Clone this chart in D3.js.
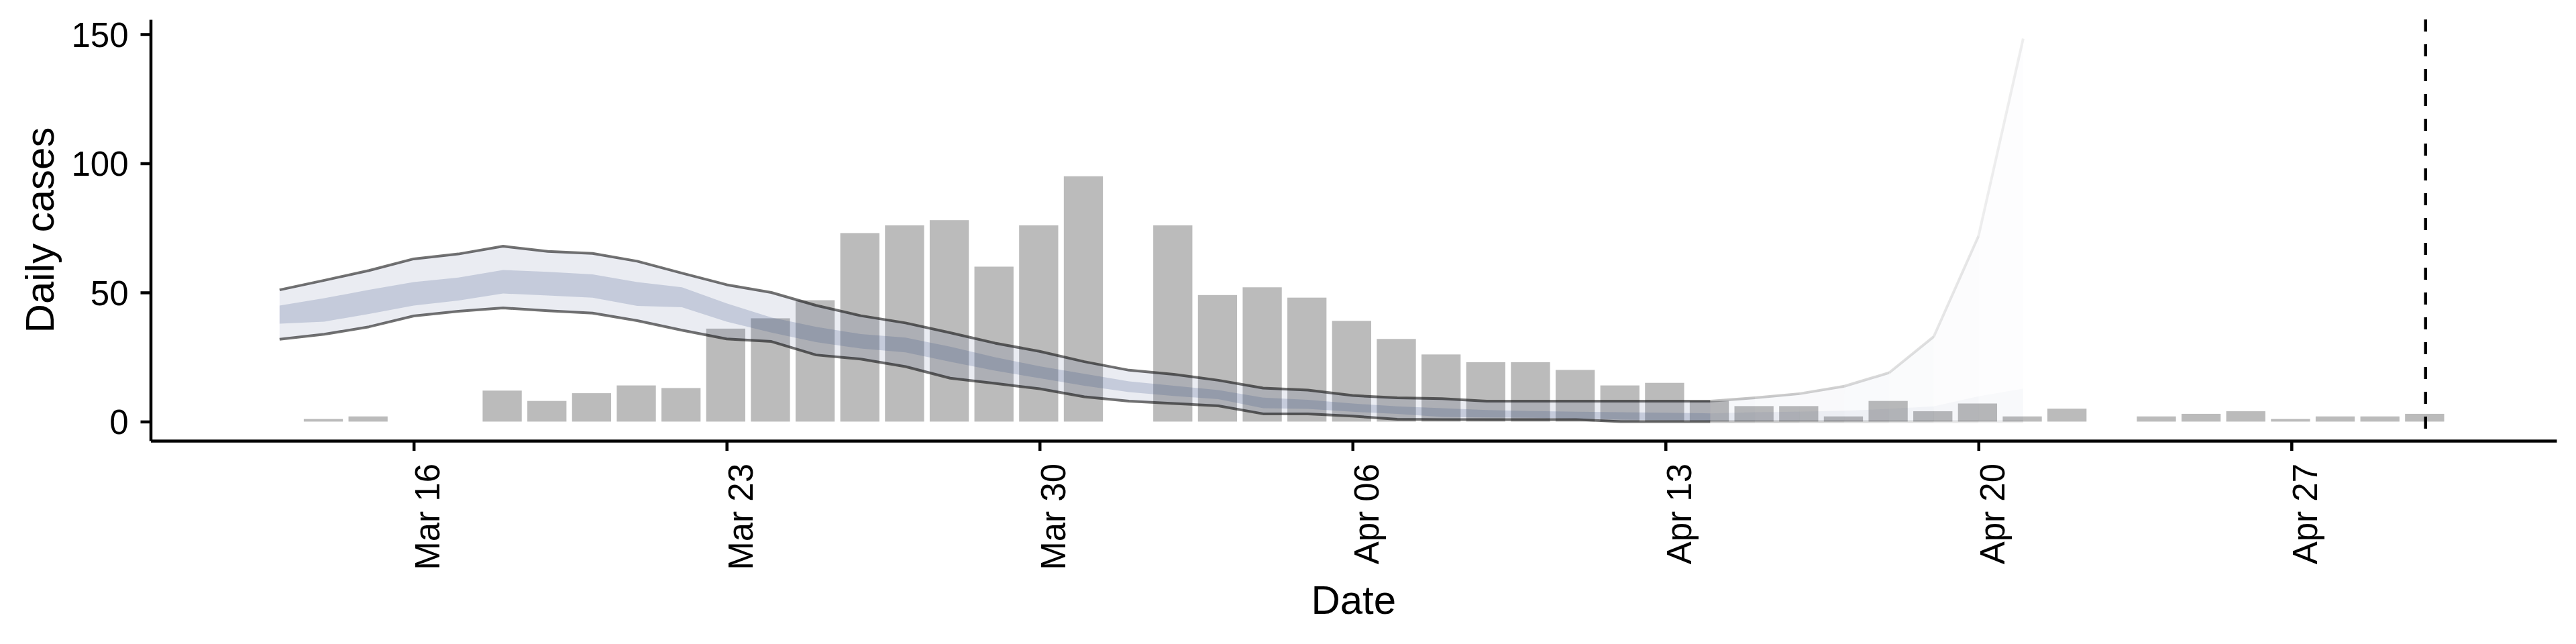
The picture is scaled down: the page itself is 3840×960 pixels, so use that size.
<!DOCTYPE html>
<html>
<head>
<meta charset="utf-8">
<script src="https://cdn.jsdelivr.net/npm/d3@7"></script>
<style>
  body { margin: 0; background: #fff; }
  text { font-family: "Liberation Sans", Arial, sans-serif; fill: #000; }
</style>
</head>
<body>
<svg id="chart" width="3840" height="960"></svg>
<script>
// reported daily cases
const caseDates = ["2020-03-14","2020-03-15","2020-03-18","2020-03-19","2020-03-20","2020-03-21","2020-03-22",
  "2020-03-23","2020-03-24","2020-03-25","2020-03-26","2020-03-27","2020-03-28","2020-03-29","2020-03-30",
  "2020-03-31","2020-04-02","2020-04-03","2020-04-04","2020-04-05","2020-04-06","2020-04-07","2020-04-08",
  "2020-04-09","2020-04-10","2020-04-11","2020-04-12","2020-04-13","2020-04-14","2020-04-15","2020-04-16",
  "2020-04-17","2020-04-18","2020-04-19","2020-04-20","2020-04-21","2020-04-22","2020-04-24","2020-04-25",
  "2020-04-26","2020-04-27","2020-04-28","2020-04-29","2020-04-30"];
const caseCounts = [1, 2, 12, 8, 11, 14, 13,
  36, 40, 47, 73, 76, 78, 60, 76,
  95, 76, 49, 52, 48, 39, 32, 26,
  23, 23, 20, 14, 15, 8, 6, 6,
  2, 8, 4, 7, 2, 5, 2, 3,
  4, 1, 2, 2, 3];

// estimate (Mar 13 - Apr 14)
const estDates = ["2020-03-13","2020-03-14","2020-03-15","2020-03-16","2020-03-17","2020-03-18","2020-03-19",
  "2020-03-20","2020-03-21","2020-03-22","2020-03-23","2020-03-24","2020-03-25","2020-03-26","2020-03-27",
  "2020-03-28","2020-03-29","2020-03-30","2020-03-31","2020-04-01","2020-04-02","2020-04-03","2020-04-04",
  "2020-04-05","2020-04-06","2020-04-07","2020-04-08","2020-04-09","2020-04-10","2020-04-11","2020-04-12",
  "2020-04-13","2020-04-14"];
const estUpper90 = [51.0, 54.7, 58.5, 63.0, 64.9, 67.9, 65.9, 65.1, 62.1, 57.5, 53.0, 50.0, 45.0, 41.0, 38.2,
  34.4, 30.4, 27.2, 23.2, 19.9, 18.3, 16.0, 13.0, 12.2, 10.1, 9.2, 8.9, 7.9, 7.9, 7.9, 7.9, 7.9, 7.9];
const estLower90 = [31.9, 33.8, 36.7, 40.9, 42.7, 44.0, 42.9, 42.0, 39.1, 35.4, 32.0, 31.0, 25.8, 24.2, 21.3,
  16.8, 14.8, 12.7, 9.6, 7.9, 7.0, 6.1, 3.0, 3.0, 2.1, 0.9, 0.8, 0.8, 0.8, 0.8, 0, 0, 0];
const estUpper50 = [44.9, 47.8, 51.0, 54.0, 55.8, 58.7, 58.0, 57.0, 54.0, 52.0, 45.8, 40.3, 36.7, 33.9, 32.5,
  29.0, 24.9, 21.4, 18.5, 15.6, 13.9, 12.2, 9.3, 8.4, 7.0, 5.9, 5.2, 4.5, 4.1, 3.8, 3.6, 3.4, 3.2];
const estLower50 = [37.9, 38.7, 41.7, 44.9, 46.9, 49.6, 48.8, 48.0, 44.8, 44.3, 38.7, 34.5, 30.8, 28.3, 26.8,
  23.2, 19.7, 16.8, 13.9, 11.4, 9.9, 8.7, 5.2, 4.9, 3.8, 3.0, 1.8, 1.6, 1.5, 1.2, 0.8, 0.6, 0.4];

// forecast (Apr 14 - Apr 21)
const fcDates = ["2020-04-14","2020-04-15","2020-04-16","2020-04-17","2020-04-18","2020-04-19","2020-04-20","2020-04-21"];
const fcUpper90 = [7.9, 9.2, 10.8, 13.7, 18.9, 32.9, 71.8, 148.3];
const fcLower90 = [0, 0, 0, 0, 0, 0, 0, 0];
const fcUpper50 = [3.2, 3.6, 3.8, 4.2, 4.9, 5.9, 9.8, 12.8];
const fcLower50 = [0.4, 0.3, 0.3, 0.2, 0.2, 0.2, 0.2, 0.2];

const yTicks = [0, 50, 100, 150];
const xTickDates = ["2020-03-16","2020-03-23","2020-03-30","2020-04-06","2020-04-13","2020-04-20","2020-04-27"];
const cutoffDate = "2020-04-30";

const parse = d3.utcParse("%Y-%m-%d");
const svg = d3.select("#chart");

const plotLeft = 224.5, plotRight = 3811, plotTop = 29, plotBottom = 657;

const x = d3.scaleUtc()
  .domain([new Date(Date.UTC(2020, 2, 10, 2, 46)), new Date(Date.UTC(2020, 4, 2, 22, 19))])
  .range([plotLeft, plotRight]);

const yMax = d3.max(fcUpper90);
const y = d3.scaleLinear()
  .domain([-0.05 * yMax, yMax * 1.05])
  .range([plotBottom, plotTop]);

const ribbonCol = "#304982";

// bars
const cases = caseDates.map((d, i) => ({date: parse(d), n: caseCounts[i]}));
svg.append("g").selectAll("rect")
  .data(cases)
  .join("rect")
  .attr("x", d => x(d3.utcHour.offset(d.date, -10.8)))
  .attr("width", d => x(d3.utcHour.offset(d.date, 10.8)) - x(d3.utcHour.offset(d.date, -10.8)))
  .attr("y", d => y(d.n))
  .attr("height", d => y(0) - y(d.n))
  .attr("fill", "#bbbbbb");

// estimate ribbons
const est = estDates.map((d, i) => ({date: parse(d), lo90: estLower90[i], hi90: estUpper90[i], lo50: estLower50[i], hi50: estUpper50[i]}));

const area90 = d3.area().x(d => x(d.date)).y0(d => y(d.lo90)).y1(d => y(d.hi90));
const area50 = d3.area().x(d => x(d.date)).y0(d => y(d.lo50)).y1(d => y(d.hi50));
const lineHi = d3.line().x(d => x(d.date)).y(d => y(d.hi90));
const lineLo = d3.line().x(d => x(d.date)).y(d => y(d.lo90));

const gEst = svg.append("g");
gEst.append("path").attr("d", area90(est)).attr("fill", ribbonCol).attr("fill-opacity", 0.1);
gEst.append("path").attr("d", area50(est)).attr("fill", ribbonCol).attr("fill-opacity", 0.2);
[lineHi, lineLo].forEach(l => {
  gEst.append("path").attr("d", l(est)).attr("fill", "none")
    .attr("stroke", "#000").attr("stroke-opacity", 0.55).attr("stroke-width", 4)
    .attr("stroke-linejoin", "round");
});

// forecast, fading day by day
const fc = fcDates.map((d, i) => ({date: parse(d), lo90: fcLower90[i], hi90: fcUpper90[i], lo50: fcLower50[i], hi50: fcUpper50[i]}));
const gFc = svg.append("g");
for (let i = 0; i < fc.length - 1; i++) {
  const seg = fc.slice(i, i + 2);
  const f = 0.42 - 0.05 * i;
  gFc.append("path").attr("d", area90(seg)).attr("fill", ribbonCol).attr("fill-opacity", 0.1 * f);
  gFc.append("path").attr("d", area50(seg)).attr("fill", ribbonCol).attr("fill-opacity", 0.2 * f);
  [lineHi, lineLo].forEach(l => {
    gFc.append("path").attr("d", l(seg)).attr("fill", "none")
      .attr("stroke", "#000").attr("stroke-opacity", 0.55 * f).attr("stroke-width", 4);
  });
}

// report date marker
svg.append("line")
  .attr("x1", x(parse(cutoffDate))).attr("x2", x(parse(cutoffDate)))
  .attr("y1", plotTop).attr("y2", plotBottom)
  .attr("stroke", "#000").attr("stroke-width", 4.5)
  .attr("stroke-dasharray", "18,19");

// axes
const yAxis = svg.append("g")
  .attr("transform", `translate(${plotLeft},0)`)
  .call(d3.axisLeft(y).tickValues(yTicks).tickSize(15).tickSizeOuter(0).tickPadding(18));
const xAxis = svg.append("g")
  .attr("transform", `translate(0,${plotBottom})`)
  .call(d3.axisBottom(x).tickValues(xTickDates.map(parse)).tickFormat(d3.utcFormat("%b %d"))
    .tickSize(15).tickSizeOuter(0));

[yAxis, xAxis].forEach(a => {
  a.attr("font-family", null).attr("font-size", null);
  a.select(".domain").attr("stroke", "#000").attr("stroke-width", 4.5);
  a.selectAll(".tick line").attr("stroke", "#000").attr("stroke-width", 4.5);
  a.selectAll("text").attr("font-size", 51);
});
yAxis.selectAll(".tick text").attr("dy", "0.36em");
xAxis.selectAll(".tick text")
  .attr("transform", "rotate(-90)")
  .attr("text-anchor", "end")
  .attr("x", -34)
  .attr("y", 38)
  .attr("dy", 0);

// axis titles
svg.append("text")
  .attr("transform", `translate(80,${(plotTop + plotBottom) / 2}) rotate(-90)`)
  .attr("text-anchor", "middle")
  .attr("font-size", 60)
  .text("Daily cases");
svg.append("text")
  .attr("x", (plotLeft + plotRight) / 2)
  .attr("y", 915)
  .attr("text-anchor", "middle")
  .attr("font-size", 60)
  .text("Date");
</script>
</body>
</html>
